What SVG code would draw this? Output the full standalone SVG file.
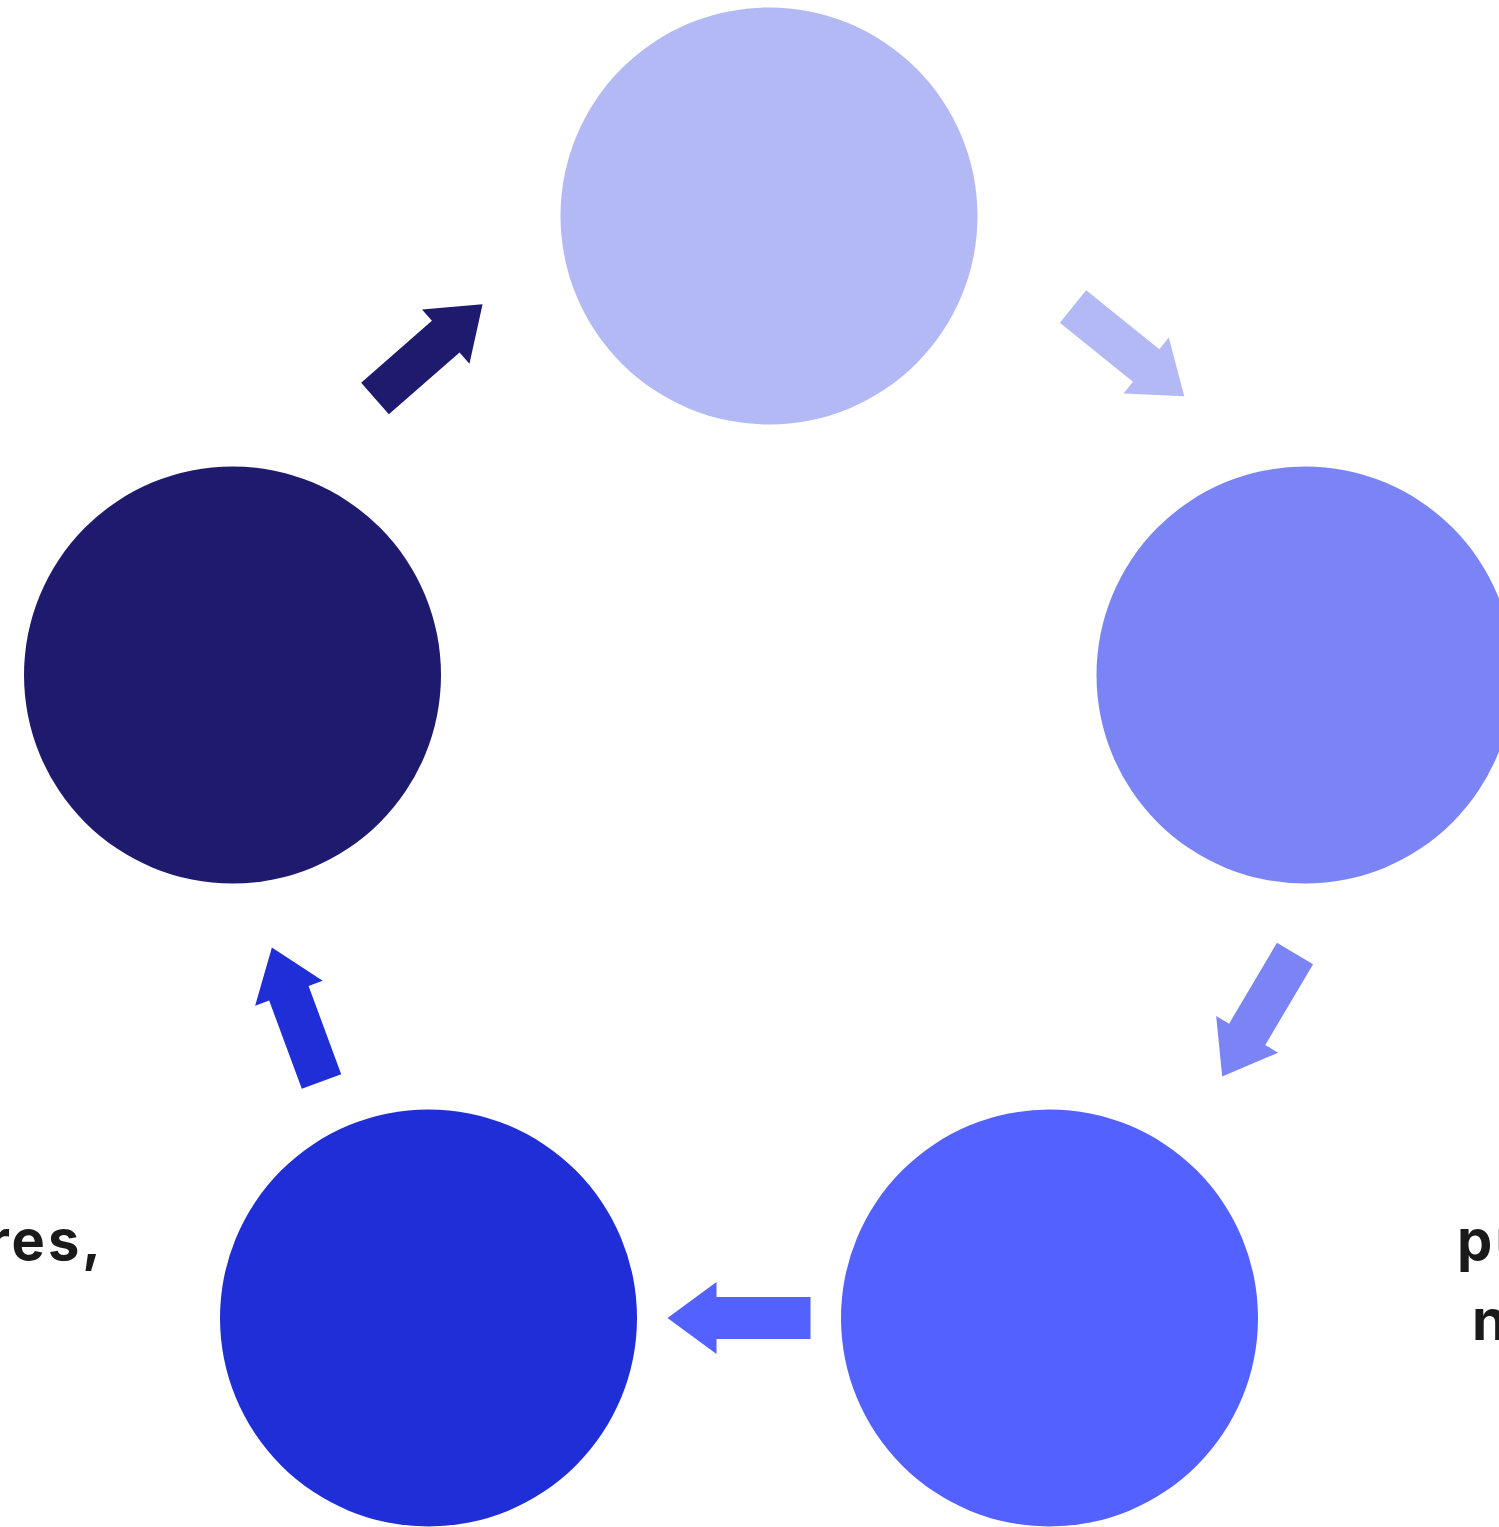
<svg xmlns="http://www.w3.org/2000/svg" width="1499" height="1527" viewBox="0 0 1499 1527">
<defs>
<style>
.lbl{font-family:Inter,"Liberation Sans",sans-serif;font-weight:700;font-size:56px;letter-spacing:3px;fill:#1a1a1a}
</style>
<path id="arr" d="M0,-21 L94,-21 L94,-36 L143,0 L94,36 L94,21 L0,21 Z"/>
</defs>
<rect width="1499" height="1527" fill="#ffffff"/>
<g id="node-top"><circle cx="769" cy="216" r="208.5" fill="#B3B9F4"/></g>
<g id="node-right"><circle cx="1305" cy="675" r="208.5" fill="#7A84F4"/></g>
<g id="node-bottom-right"><circle cx="1049.5" cy="1318" r="208.5" fill="#5261FF"/><text class="lbl" x="1457" y="1260">pu</text><text class="lbl" x="1472" y="1340">n</text></g>
<g id="node-bottom-left"><circle cx="428.5" cy="1318" r="208.5" fill="#1F2ED6"/><text class="lbl" x="104" y="1260" text-anchor="end">res,</text></g>
<g id="node-left"><circle cx="232.5" cy="675" r="208.5" fill="#1E1B6F"/></g>
<g id="connectors">
<use href="#arr" fill="#B3B9F4" transform="translate(1073,306.5) rotate(38.9)"/>
<use href="#arr" fill="#7A84F4" transform="translate(1295,953.5) rotate(120.6)"/>
<use href="#arr" fill="#5261FF" transform="translate(810.5,1318) rotate(180)"/>
<use href="#arr" fill="#1F2ED6" transform="translate(321.5,1081.5) rotate(-110.3)"/>
<use href="#arr" fill="#1E1B6F" transform="translate(375,398.5) rotate(-41.2)"/>
</g>
</svg>
